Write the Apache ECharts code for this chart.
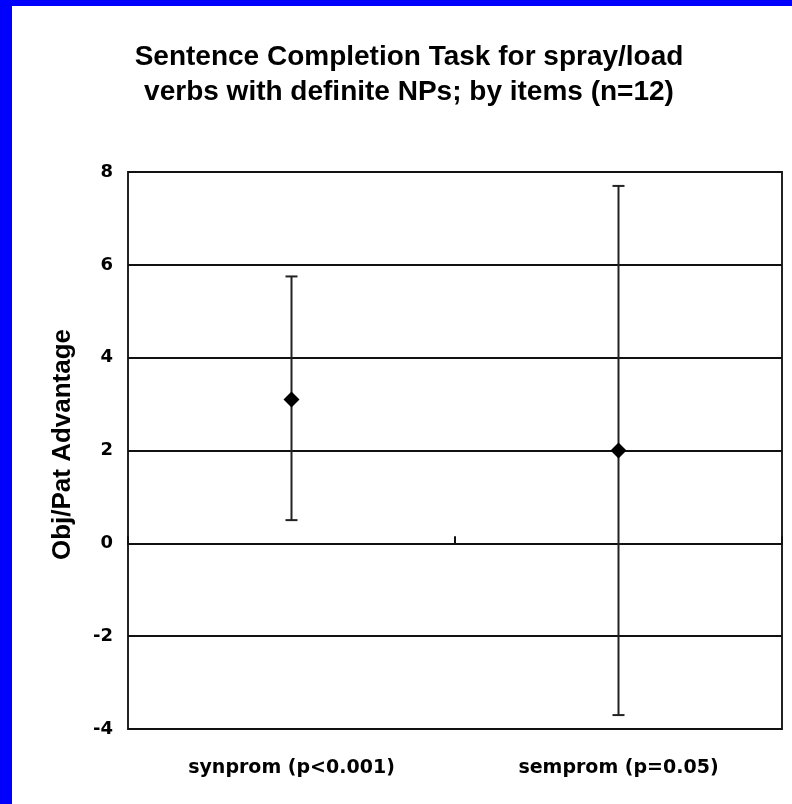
<!DOCTYPE html>
<html>
<head>
<meta charset="utf-8">
<script src="https://cdn.jsdelivr.net/npm/echarts@6/dist/echarts.min.js"></script>
<style>
html,body{margin:0;padding:0;background:#fff;}
#chart{width:792px;height:804px;}
</style>
</head>
<body>
<div id="chart"></div>
<script>
// ---- data ----
const titleLines = ['Sentence Completion Task for spray/load', 'verbs with definite NPs; by items (n=12)'];
const yAxisTitle = 'Obj/Pat Advantage';
const categories = ['synprom (p<0.001)', 'semprom (p=0.05)'];
const means = [3.1, 2.0];
const upperBounds = [5.75, 7.7];
const lowerBounds = [0.5, -3.7];
const yTicks = { min: -4, max: 8, interval: 2 };

const chart = echarts.init(document.getElementById('chart'), null, { renderer: 'canvas' });

const errData = categories.map((c, i) => [i, lowerBounds[i], upperBounds[i]]);
const meanData = categories.map((c, i) => [i, means[i]]);

const option = {
  backgroundColor: '#ffffff',
  animation: false,
  title: {
    text: titleLines.join('\n'),
    left: 409,
    top: 40,
    textAlign: 'center',
    padding: 0,
    textStyle: {
      fontFamily: 'Liberation Sans, Arial, sans-serif',
      fontWeight: 'bold',
      fontSize: 28,
      lineHeight: 35,
      color: '#000'
    }
  },
  graphic: [
    { type: 'rect', shape: { x: 0, y: 0, width: 12, height: 804 }, style: { fill: '#0000ff' }, z: 100 },
    { type: 'rect', shape: { x: 0, y: 0, width: 792, height: 6 }, style: { fill: '#0000ff' }, z: 100 }
  ],
  grid: {
    left: 128, right: 10, top: 172, bottom: 75,
    show: true, borderColor: '#222', borderWidth: 2, backgroundColor: 'transparent'
  },
  xAxis: [
    {
      type: 'category', data: categories, position: 'bottom', boundaryGap: true,
      axisLine: { show: false, onZero: false },
      axisTick: { show: false },
      splitLine: { show: false },
      axisLabel: {
        margin: 30,
        fontFamily: 'DejaVu Sans, sans-serif',
        fontWeight: 'bold',
        fontSize: 19,
        color: '#000'
      }
    },
    {
      type: 'category', data: categories, position: 'bottom', boundaryGap: true,
      axisLine: { show: true, onZero: true, lineStyle: { color: '#111', width: 2 } },
      axisTick: { show: true, inside: true, length: 7, lineStyle: { color: '#111', width: 2 } },
      axisLabel: { show: false },
      splitLine: { show: false }
    }
  ],
  yAxis: {
    type: 'value', min: yTicks.min, max: yTicks.max, interval: yTicks.interval,
    name: yAxisTitle, nameLocation: 'middle', nameRotate: 90, nameGap: 52,
    nameTextStyle: {
      fontFamily: 'Liberation Sans, Arial, sans-serif',
      fontWeight: 'bold', fontSize: 26, color: '#000', padding: [0, 0, 0, 12]
    },
    axisLine: { show: false },
    axisTick: { show: false },
    splitLine: { show: true, lineStyle: { color: '#111', width: 2 } },
    axisLabel: {
      margin: 15,
      fontFamily: 'DejaVu Sans, sans-serif',
      fontWeight: 'bold', fontSize: 18, color: '#000'
    }
  },
  series: [
    {
      type: 'custom',
      xAxisIndex: 0, yAxisIndex: 0,
      data: errData,
      z: 5,
      renderItem: function (params, api) {
        const lo = api.coord([api.value(0), api.value(1)]);
        const hi = api.coord([api.value(0), api.value(2)]);
        const hw = 6;
        const st = { stroke: '#222', lineWidth: 2 };
        return {
          type: 'group',
          children: [
            { type: 'line', shape: { x1: lo[0], y1: lo[1], x2: hi[0], y2: hi[1] }, style: st },
            { type: 'line', shape: { x1: hi[0] - hw, y1: hi[1], x2: hi[0] + hw, y2: hi[1] }, style: st },
            { type: 'line', shape: { x1: lo[0] - hw, y1: lo[1], x2: lo[0] + hw, y2: lo[1] }, style: st }
          ]
        };
      }
    },
    {
      type: 'scatter',
      xAxisIndex: 0, yAxisIndex: 0,
      data: meanData,
      symbol: 'diamond',
      symbolSize: [16, 16],
      itemStyle: { color: '#000', opacity: 1 },
      z: 10
    }
  ]
};
chart.setOption(option);
</script>
</body>
</html>
